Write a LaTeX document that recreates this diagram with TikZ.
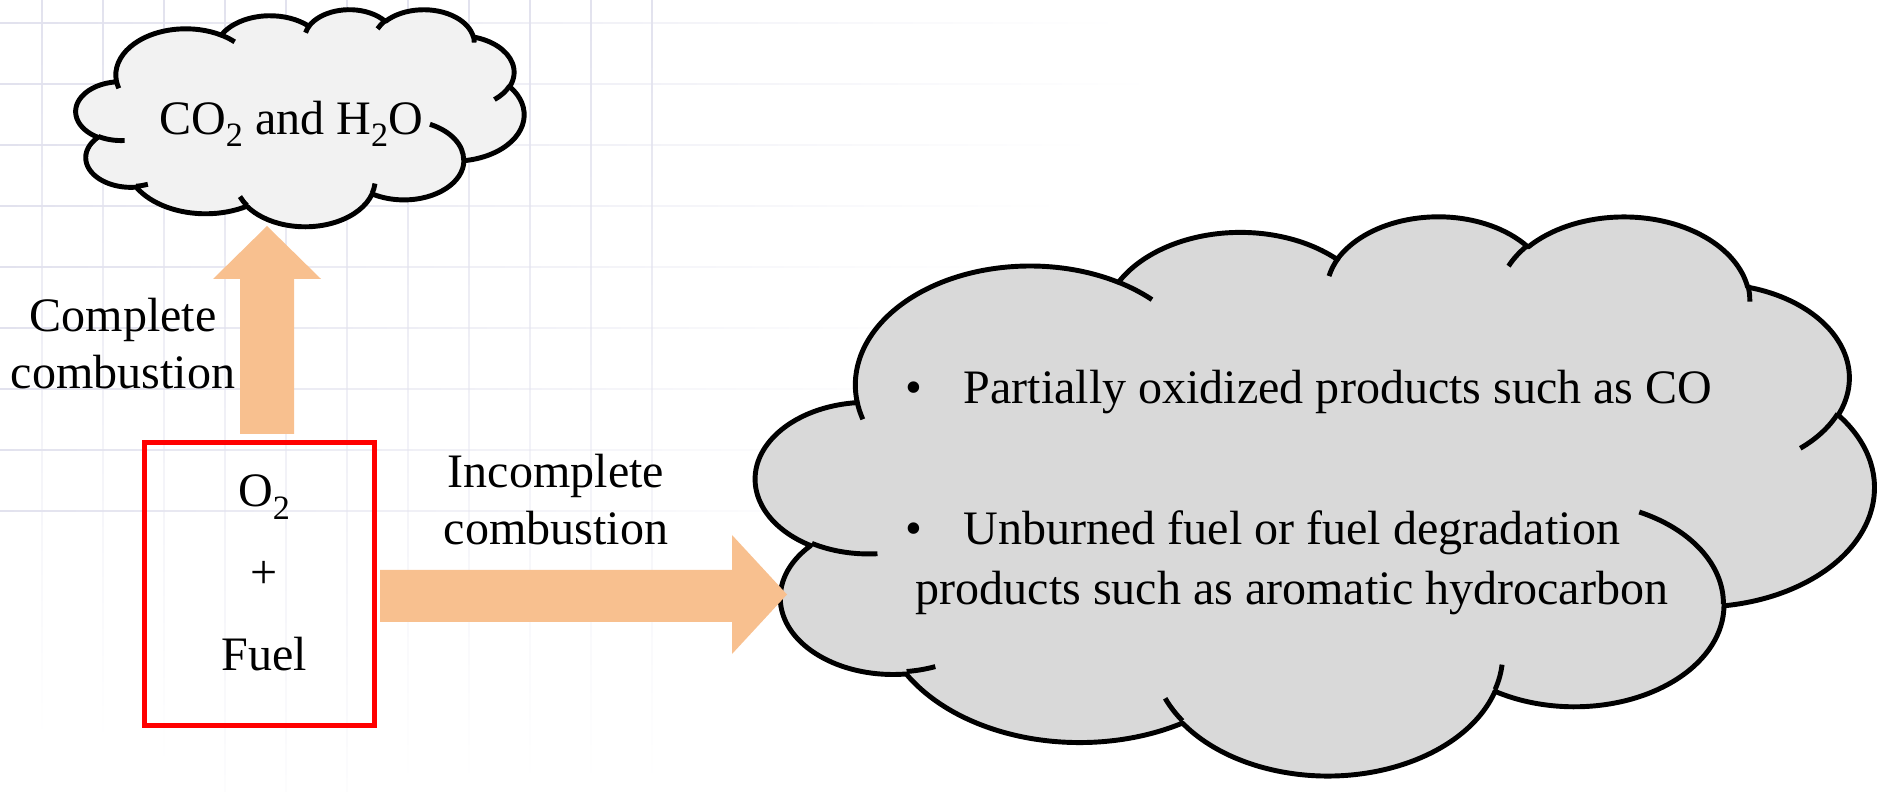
\documentclass[tikz,border=0pt]{standalone}
\usepackage{fontspec}
\setmainfont{Liberation Serif}
\usetikzlibrary{fadings}

\definecolor{gridblue}{RGB}{226,226,238}
\definecolor{smokepale}{RGB}{242,242,242}
\definecolor{smokegrey}{RGB}{217,217,217}
\definecolor{flame}{RGB}{248,192,143}

\newcommand\lowsub[1]{\raisebox{-0.25em}{\fontsize{9.7pt}{10pt}\selectfont #1}}

\tikzfading[name=tail east, left color=transparent!0, middle color=transparent!15, right color=transparent!100]
\tikzfading[name=tail south, top color=transparent!0, middle color=transparent!15, bottom color=transparent!100]

%% office-style cloud in a 43.2 x 43.2 box (y pointing down)
\tikzset{
  pics/puff/.style={code={
    \path[puffline, pic actions] (3.900,14.370)
      \foreach \w/\h/\s/\d [evaluate=\s as \ps using {atan2(\w*sin(\s),\h*cos(\s))},
          evaluate=\d as \pd using {mod(atan2(\w*sin(\s+\d),\h*cos(\s+\d))-atan2(\w*sin(\s),\h*cos(\s))+720,360)}]
        in {6.753/9.190/-190.4875/123.7805, 5.333/7.267/-144.1024/89.9452,
            4.365/5.945/-145.8079/99.7230, 4.857/6.595/-130.9861/117.2417,
            5.333/7.273/-78.7089/109.0269, 6.775/9.220/-46.2673/130.2690,
            5.785/7.867/0.6250/114.0333, 6.752/9.215/22.4516/115.1726,
            7.720/10.543/66.2426/75.7110, 4.360/5.918/-274.9421/146.7356,
            4.345/5.945/-246.8285/152.5189}
      { arc[start angle=\ps, delta angle=\pd, x radius=\w, y radius=\h] } -- cycle;
    %% inner puff seams
    \foreach \mx/\my/\w/\h/\s/\d [evaluate=\s as \ps using {atan2(\w*sin(\s),\h*cos(\s))},
        evaluate=\d as \pd using {mod(atan2(\w*sin(\s+\d),\h*cos(\s+\d))-atan2(\w*sin(\s),\h*cos(\s))+720,360)}]
      in {4.693/26.177/4.345/5.945/86.7420/26.4295, 6.928/34.899/4.360/5.918/73.6105/11.4475,
          16.478/39.090/6.752/9.215/137.6242/14.0811, 28.827/34.751/6.752/9.215/6.4533/15.9984,
          34.129/22.954/5.785/7.867/-70.2924/70.9174, 41.798/15.354/5.333/7.273/30.3180/27.7515,
          38.324/5.426/4.857/6.595/-13.7443/14.8589, 29.078/3.952/4.857/6.595/-149.1815/18.1954,
          22.141/4.720/4.365/5.945/-163.4943/17.6864, 14.000/5.192/6.753/9.190/-66.7070/12.3194,
          4.127/15.789/6.753/9.190/157.6544/11.8582}
      \draw[puffline] (\mx,\my) arc[start angle=\ps, delta angle=\pd, x radius=\w, y radius=\h];
  }}
}

\begin{document}
\begin{tikzpicture}[
  x=0.01cm, y=-0.01cm,
  font=\fontsize{13.66pt}{16.3pt}\selectfont,
  every node/.style={inner sep=0pt},
  puffline/.style={draw=black, line width=1.4pt, line join=round},
  feed/.style={draw=red, line width=1.45pt, minimum width=2.29cm, minimum height=2.82cm},
  fatarrow/.style={fill=flame},
]
\useasboundingbox (0,0) rectangle (1877,792);

%% --- faint background grid (top left) ---
\foreach \y/\len in {23/810,84/833,145/790,206/767,267/727,328/700,389/683,450/640,511/627}
  \fill[gridblue, path fading=tail east] (0,\y-1) rectangle (\len/0.72,\y+1);
\foreach \x/\len in {42/533,103/535,164/553,225/632,286/632,347/635,408/565,469/565,530/565,591/565,652/565}
  \fill[gridblue, path fading=tail south] (\x-1,0) rectangle (\x+1,\len/0.72);

%% --- clouds ---
\pic[fill=smokepale, xscale=448/43.2, yscale=217/43.2] at (76,9) {puff};
\pic[fill=smokegrey, xscale=1118/43.2, yscale=559/43.2] at (756,215) {puff};

%% --- block arrows ---
\fill[fatarrow] (240,434) -- (240,279) -- (213,279) -- (267,226) -- (321,279) -- (294,279) -- (294,434) -- cycle;
\fill[fatarrow] (380,570) -- (732,570) -- (732,535) -- (787,594.5) -- (732,654) -- (732,622) -- (380,622) -- cycle;

%% --- reactants box ---
\node[feed] (mix) at (259.5,584) {};
\node[anchor=base] (oxy)  at (264,507) {O\lowsub{2}};
\node[anchor=base] (plus) at (264,589) {+};
\node[anchor=base] (fuel) at (264,670) {Fuel};

%% --- labels (base = last line) ---
\node[anchor=base, align=center] (full) at (123,389) {Complete\\combustion};
\node[anchor=base, align=center] (part) at (556,545) {Incomplete\\combustion};

%% --- products ---
\node[anchor=base] (prod) at (291,135) {CO\lowsub{2} and H\lowsub{2}O};
\node[anchor=base] (dot1) at (914,404) {\textbullet};
\node[anchor=base west] (oxid) at (963,404) {Partially oxidized products such as CO};
\node[anchor=base] (dot2) at (914,545) {\textbullet};
\node[anchor=base west] (unb1) at (963,545) {Unburned fuel or fuel degradation};
\node[anchor=base west] (unb2) at (915,604) {products such as aromatic hydrocarbon};

\end{tikzpicture}
\end{document}
